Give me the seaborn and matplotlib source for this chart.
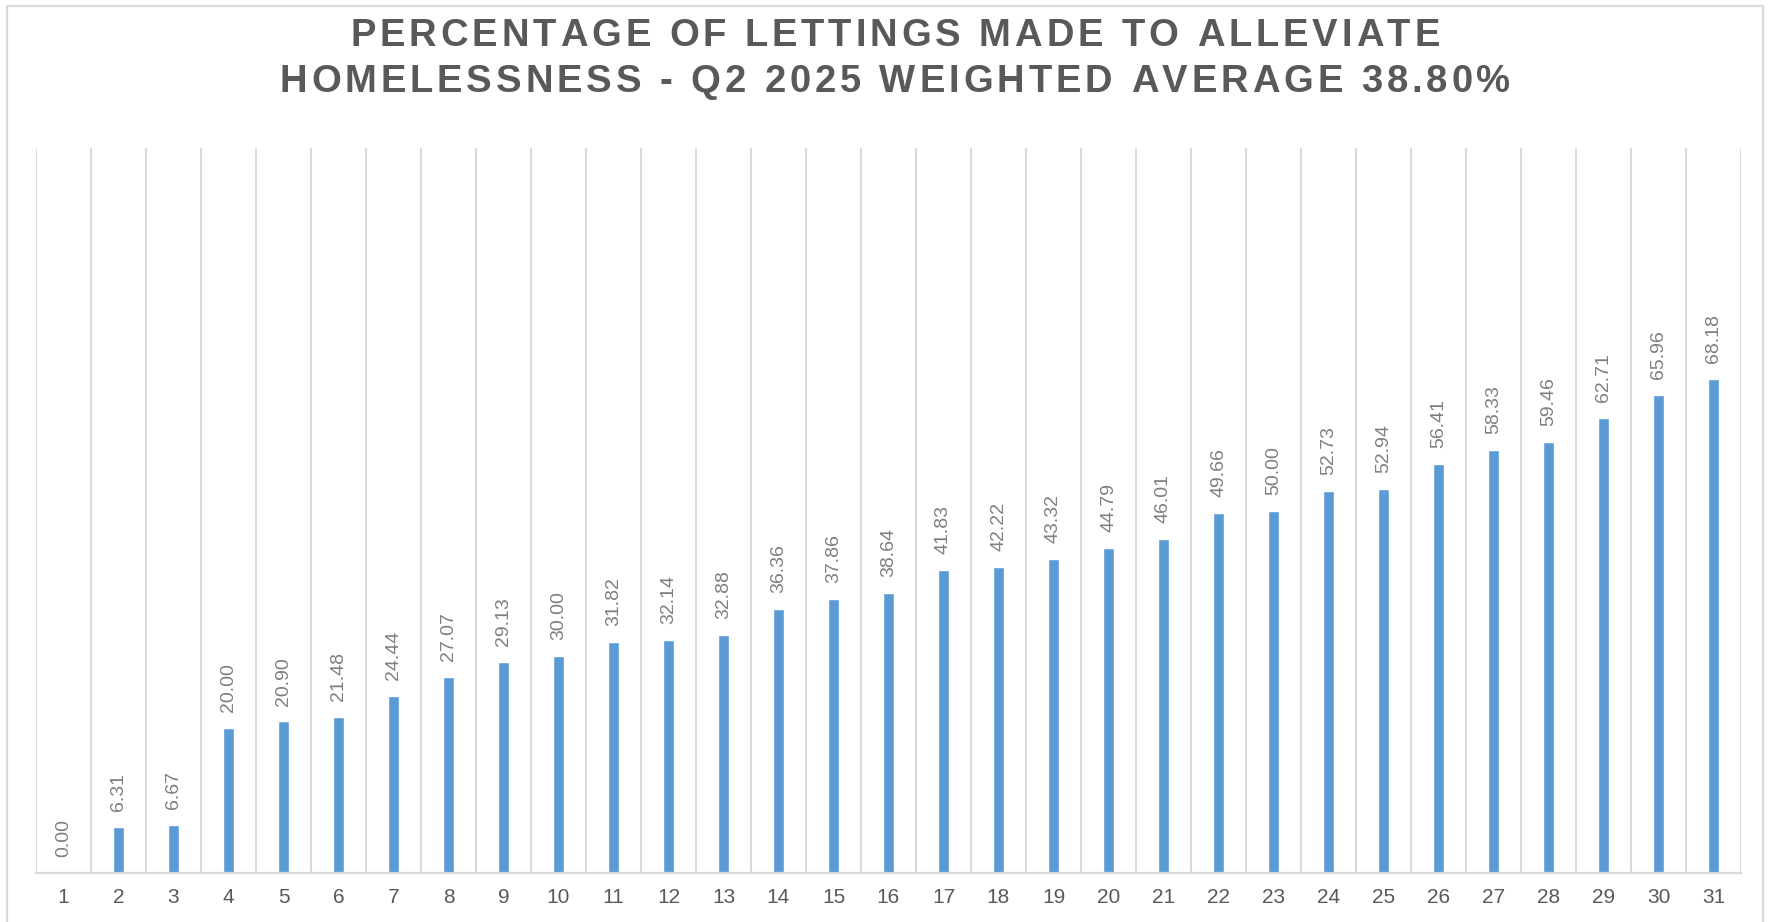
import numpy as np
import pandas as pd
import matplotlib
matplotlib.use("Agg")
import matplotlib.pyplot as plt
from matplotlib.patches import Rectangle
import seaborn as sns

# Data
categories = [str(i) for i in range(1, 32)]
values = [0.00, 6.31, 6.67, 20.00, 20.90, 21.48, 24.44, 27.07, 29.13, 30.00,
          31.82, 32.14, 32.88, 36.36, 37.86, 38.64, 41.83, 42.22, 43.32, 44.79,
          46.01, 49.66, 50.00, 52.73, 52.94, 56.41, 58.33, 59.46, 62.71, 65.96,
          68.18]
title_lines = ["PERCENTAGE OF LETTINGS MADE TO ALLEVIATE",
               "HOMELESSNESS - Q2 2025 WEIGHTED AVERAGE 38.80%"]

sns.set_style("white")
plt.rcParams["font.family"] = ["Liberation Sans", "DejaVu Sans"]

BAR = "#5B9BD5"
GRID = "#D9D9D9"
TITLE_C = "#595959"
LABEL_C = "#7F7F7F"

W, H = 1772, 922
fig = plt.figure(figsize=(W / 100, H / 100), dpi=100)
ax = fig.add_axes([36 / W, 1 - 873 / H, (1741 - 36) / W, (873 - 148) / H])

df = pd.DataFrame({"cat": categories, "val": values})
sns.barplot(data=df, x="cat", y="val", order=categories, color=BAR,
            width=0.19, saturation=1, ax=ax)

ax.set_xlim(-0.5, len(categories) - 0.5)
ax.set_ylim(0, 100)
ax.set_xlabel("")
ax.set_ylabel("")
ax.set_yticks([])

# Vertical separators between categories
ax.set_xticks(np.arange(-0.5, len(categories), 1), minor=True)
ax.grid(which="minor", axis="x", color=GRID, lw=1.4)
ax.grid(which="major", visible=False)
ax.tick_params(axis="x", which="both", length=0, pad=11,
               labelsize=15, labelcolor=TITLE_C)
for side in ("left", "right", "top"):
    ax.spines[side].set_visible(False)
ax.spines["bottom"].set_color(GRID)
ax.spines["bottom"].set_linewidth(1.6)

# Value labels above each bar
for i, v in enumerate(values):
    ax.annotate(f"{v:.2f}", (i, v), xytext=(0, 11.5), textcoords="offset points",
                rotation=90, ha="center", va="bottom", fontsize=14, color=LABEL_C)


def spaced_text(fig, text, xc_px, base_px, spacing_px, **kw):
    """Draw text centred at xc_px with extra tracking between characters."""
    renderer = fig.canvas.get_renderer()
    probe = fig.text(0, 0, "", **kw)

    def width(s):
        probe.set_text(s)
        return probe.get_window_extent(renderer).width

    base = width("HH")
    adv = [width("H" + c + "H") - base for c in text]
    probe.remove()
    total = sum(adv) + spacing_px * (len(text) - 1)
    x = xc_px - total / 2
    for c, a in zip(text, adv):
        if c != " ":
            fig.text(x / W, 1 - base_px / H, c, ha="left", va="baseline", **kw)
        x += a + spacing_px


title_kw = dict(fontsize=27.5, fontweight="bold", color=TITLE_C,
                family=["Liberation Sans", "DejaVu Sans"])
spaced_text(fig, title_lines[0], 895, 46, 3.9, **title_kw)
spaced_text(fig, title_lines[1], 895, 92.5, 3.9, **title_kw)

# Chart-area border
fig.patches.append(Rectangle((7 / W, -0.05), (1763 - 7) / W, 1.05 - 6 / H,
                             transform=fig.transFigure, fill=False,
                             edgecolor=GRID, lw=1.6))

fig.savefig("out.png", dpi=100, facecolor="white")
